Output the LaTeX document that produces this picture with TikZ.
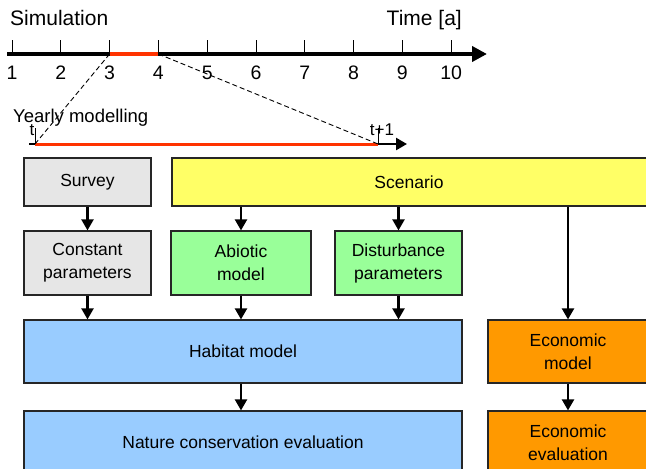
\documentclass[tikz,border=0pt]{standalone}
\usepackage{fontspec}
\setmainfont{Liberation Sans}
\usetikzlibrary{arrows.meta}

\definecolor{survgrey}{HTML}{E6E6E6}
\definecolor{scenyellow}{HTML}{FFFF66}
\definecolor{modgreen}{HTML}{99FF99}
\definecolor{habblue}{HTML}{99CCFF}
\definecolor{econorange}{HTML}{FF9900}
\definecolor{spanred}{HTML}{FF3300}

\tikzset{every picture/.style={x=1pt,y=-1pt}}
\tikzset{
  box/.style={draw=black!85, line width=1.2pt, fill=#1, inner sep=0pt,
              align=center, font=\fontsize{17.5}{23}\selectfont},
  box/.default={survgrey},
  flow/.style={line width=2.2pt, -{Triangle[length=11pt,width=12pt]}},
  lbl/.style={inner sep=0pt, font=\fontsize{#1}{#1}\selectfont},
  lbl/.default={21},
  zoomline/.style={dash pattern=on 5pt off 3pt, line width=0.9pt},
}
\def\n{10}
\def\dx{48.8}

\begin{document}
\begin{tikzpicture}
  \useasboundingbox (0,0) rectangle (646,469);
  \clip (0,0) rectangle (646,469);
  % simulation time axis
  \node[lbl, anchor=base west] (simlab) at (10,25) {Simulation};
  \node[lbl, anchor=base east] (timelab) at (462,25) {Time [a]};
  \foreach \k in {1,...,\n} {
      \coordinate (t\k) at (12+\k*\dx-\dx,54);
      \draw[line width=1pt] (t\k) -- ++(0,-14);
      \node[lbl=19.5, anchor=base] (y\k) at (12+\k*\dx-\dx,79) {\k};
  };
  \draw[line width=4pt, -{Triangle[length=15pt,width=15pt]}] (7,54) -- (487,54);
  \draw[line width=4pt, spanred] (t3) -- (t4);
  % yearly modelling axis
  \node[lbl=18.5, anchor=base west] (yearlab) at (13,122) {Yearly modelling};
  \coordinate (ys) at (35,144);
  \coordinate (ye) at (378,144);
  \draw[line width=2.5pt, -{Triangle[length=11pt,width=12pt]}] (29,144) -- (407,144);
  \draw[line width=3pt, spanred] (ys) -- (ye);
  \draw[line width=1pt] (ys) -- ++(0,-16);
  \draw[line width=1pt] (ye) -- ++(0,-16);
  \node[lbl=17, anchor=base] (tlab) at (32,135) {t};
  \node[lbl=17, anchor=base] (t1lab) at (382,135) {t+1};
  \draw[zoomline] (t3) -- (ys);
  \draw[zoomline] (t4) -- (ye);
  % boxes
  \node[box, minimum width=127pt, minimum height=48pt] (surv) at (87.5,182) {Survey};
  \node[box=scenyellow, minimum width=490pt, minimum height=48pt] (scen) at (417,182) {};
  \node[font=\fontsize{17.5}{23}\selectfont] (scenlab) at (409,182) {Scenario};
  \node[box, minimum width=127pt, minimum height=64pt] (const) at (87.5,263) {Constant\\parameters};
  \node[box=modgreen, minimum width=140pt, minimum height=64pt] (abio) at (241,263) {Abiotic\\model};
  \node[box=modgreen, minimum width=127pt, minimum height=64pt] (dist) at (398.5,263) {Disturbance\\parameters};
  \node[box=habblue, minimum width=438pt, minimum height=63pt] (hab) at (243,351.5) {Habitat model};
  \node[box=econorange, minimum width=160pt, minimum height=63pt] (econ) at (568,351.5) {Economic\\model};
  \node[box=habblue, minimum width=438pt, minimum height=63pt] (nat) at (243,442.5) {Nature conservation evaluation};
  \node[box=econorange, minimum width=160pt, minimum height=63pt] (eval) at (568,442.5) {Economic\\evaluation};
  % connect boxes
  \draw[flow] (surv) -- (const);
  \draw[flow] (scen.south -| abio) -- (abio);
  \draw[flow] (scen.south -| dist) -- (dist);
  \draw[flow] (scen.south -| econ) -- (econ);
  \draw[flow] (const) -- (const |- hab.north);
  \draw[flow] (abio) -- (abio |- hab.north);
  \draw[flow] (dist) -- (dist |- hab.north);
  \draw[flow] (hab.south -| abio) -- (abio |- nat.north);
  \draw[flow] (econ) -- (eval);
\end{tikzpicture}
\end{document}
